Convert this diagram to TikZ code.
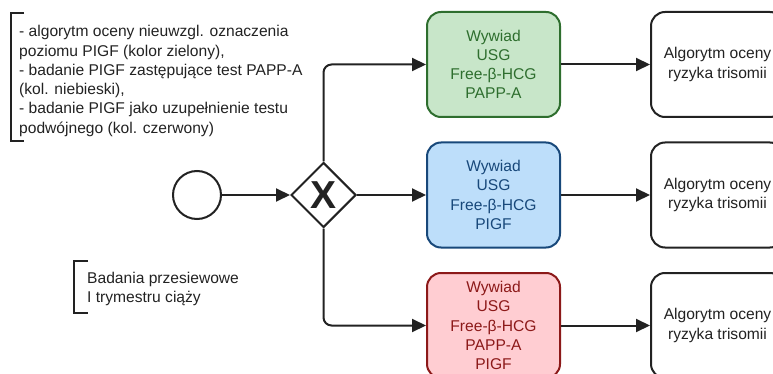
\documentclass[tikz,border=0pt]{standalone}
\usepackage{fontspec}
\setmainfont{Liberation Sans}
\usetikzlibrary{arrows.meta,shapes.geometric}
\definecolor{ink}{RGB}{34,34,34}
\definecolor{gfill}{RGB}{200,230,201}
\definecolor{gline}{RGB}{46,110,46}
\definecolor{bfill}{RGB}{189,222,250}
\definecolor{bline}{RGB}{24,72,122}
\definecolor{rfill}{RGB}{255,205,210}
\definecolor{rline}{RGB}{140,25,25}
\tikzset{
  txt/.style={font=\fontsize{15.6}{19.3}\selectfont, text=ink, inner sep=0pt},
  task/.style={rounded corners=14pt, line width=2pt, minimum width=133pt, minimum height=105pt, align=center, inner sep=0pt, font=\fontsize{15.6}{19.2}\selectfont},
  gtask/.style={task, draw=gline, fill=gfill, text=gline},
  btask/.style={task, draw=bline, fill=bfill, text=bline},
  rtask/.style={task, draw=rline, fill=rfill, text=rline},
  wtask/.style={task, draw=ink, fill=white, text=ink},
  flow/.style={draw=ink, line width=2pt, rounded corners=8pt, -{Triangle[length=14pt,width=13pt]}},
  bracketline/.style={draw=ink, line width=2pt},
}
\begin{document}
\begin{tikzpicture}[x=1pt,y=-1pt]
\useasboundingbox (0,0) rectangle (773,374);
\clip (0,0) rectangle (773,374);
% annotations
\draw[bracketline] (24,13) -- (11,13) -- (11,141) -- (24,141);
\node[txt, anchor=west, align=left] (note1) at (19,81) {- algorytm oceny nieuwzgl. oznaczenia\\poziomu PIGF (kolor zielony),\\- badanie PIGF zastępujące test PAPP-A\\(kol. niebieski),\\- badanie PIGF jako uzupełnienie testu\\podwójnego (kol. czerwony)};
\draw[bracketline] (88,261) -- (74,261) -- (74,313) -- (88,313);
\node[txt, anchor=west, align=left] (note2) at (87,289) {Badania przesiewowe\\I trymestru ciąży};
% start event and gateway
\node[circle, draw=ink, line width=2pt, fill=white, minimum size=48pt, inner sep=0pt] (start) at (197,195) {};
\node[diamond, draw=ink, line width=2pt, fill=white, minimum width=65pt, minimum height=65pt, inner sep=0pt] (gw) at (323.5,195) {};
\node[font=\fontsize{39}{39}\selectfont\bfseries, text=ink, inner sep=0pt] (gwx) at (323.5,195) {X};
% tasks
\node[gtask] (g) at (493.5,64.5) {Wywiad\\USG\\Free-β-HCG\\PAPP-A};
\node[btask] (b) at (493.5,195) {Wywiad\\USG\\Free-β-HCG\\PIGF};
\node[rtask] (r) at (493.5,325.5) {Wywiad\\USG\\Free-β-HCG\\PAPP-A\\PIGF};
\node[wtask] (g2) at (717.5,64.5) {Algorytm oceny\\ryzyka trisomii};
\node[wtask] (b2) at (717.5,195) {Algorytm oceny\\ryzyka trisomii};
\node[wtask] (r2) at (717.5,325.5) {Algorytm oceny\\ryzyka trisomii};
% connectors
\draw[flow] (start) -- (gw);
\draw[flow] (gw.north) |- (g.west);
\draw[flow] (gw.east) -- (b.west);
\draw[flow] (gw.south) |- (r.west);
\draw[flow] (g) -- (g2);
\draw[flow] (b) -- (b2);
\draw[flow] (r) -- (r2);
\end{tikzpicture}
\end{document}
